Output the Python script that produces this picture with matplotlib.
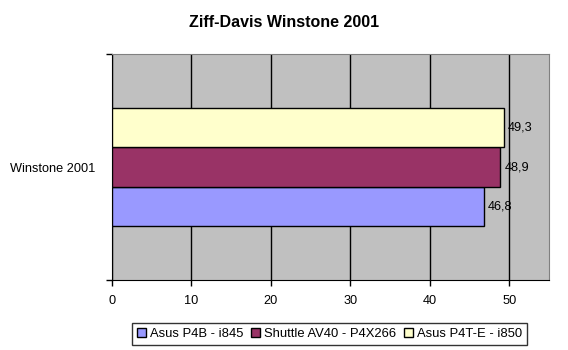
import matplotlib.pyplot as plt

plt.rcParams['font.family'] = ['Liberation Sans', 'DejaVu Sans']

category = "Winstone 2001"
boards = ["Asus P4B - i845", "Shuttle AV40 - P4X266", "Asus P4T-E - i850"]
scores = [46.8, 48.9, 49.3]
colors = ['#9999FF', '#993366', '#FFFFCC']
value_labels = ["46,8", "48,9", "49,3"]
x_ticks = [0, 10, 20, 30, 40, 50]

fig = plt.figure(figsize=(5.68, 3.5), dpi=100)
ax = fig.add_axes([0.1967, 0.2, 0.7698, 0.6457])
ax.set_facecolor('#C0C0C0')

h = 0.174
offsets = [-h, 0, h]
handles = []
for name, val, col, lab, off in zip(boards, scores, colors, value_labels, offsets):
    b = ax.barh(off, val, height=h, color=col, edgecolor='black', linewidth=1, label=name, zorder=3)
    handles.append(b)
    ax.text(val + 0.55, off, lab, va='center', ha='left', fontsize=9.2, zorder=4)

ax.set_xlim(0, 55)
ax.set_ylim(-0.5, 0.5)
ax.set_xticks(x_ticks)
ax.set_xticklabels([str(t) for t in x_ticks], fontsize=9.2)
ax.xaxis.grid(True, color='black', linewidth=1, zorder=1)
ax.set_axisbelow(True)
ax.tick_params(axis='x', direction='out', length=4, width=1, pad=7)

ax.set_yticks([-0.5, 0.5])
ax.set_yticklabels(['', ''])
ax.tick_params(axis='y', direction='out', length=4, width=1)
ax.set_yticks([0], minor=True)
ax.set_yticklabels([category], minor=True, fontsize=9.2)
ax.tick_params(axis='y', which='minor', length=0, pad=12)

for side in ['top', 'right']:
    ax.spines[side].set_color('#808080')
for side in ['left', 'bottom']:
    ax.spines[side].set_color('black')

fig.text(0.5, 0.937, "Ziff-Davis Winstone 2001", ha='center', va='center',
         fontsize=11.5, fontweight='bold')

leg = fig.legend(handles=handles, labels=boards, loc='center', ncol=3,
                 bbox_to_anchor=(0.580, 0.046), fontsize=9.4, frameon=True,
                 fancybox=False, edgecolor='black', handlelength=0.7,
                 handleheight=0.7, handletextpad=0.3, columnspacing=0.6,
                 borderpad=0.35, borderaxespad=0)
leg.get_frame().set_linewidth(1)

fig.savefig('out.png', dpi=100)
